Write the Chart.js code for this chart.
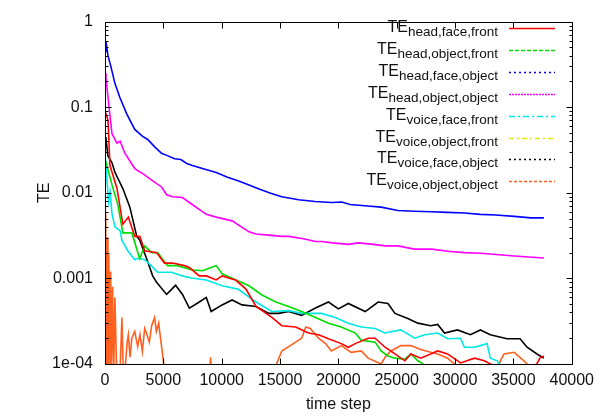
<!DOCTYPE html>
<html>
<head>
<meta charset="utf-8">
<script src="https://cdn.jsdelivr.net/npm/chart.js@4.4.1/dist/chart.umd.min.js"></script>
<style>
  html, body { margin: 0; padding: 0; background: #fff; }
  #wrap { width: 601px; height: 416px; }
</style>
</head>
<body>
<div id="wrap"><canvas id="teChart" width="601" height="416"></canvas></div>
<script>
// tick labels
const xTickValues = [0, 5000, 10000, 15000, 20000, 25000, 30000, 35000, 40000];
const yTickValues = [0.0001, 0.001, 0.01, 0.1, 1];
const yTickLabels = ['1e-04', '0.001', '0.01', '0.1', '1'];

// legend subscripts (TE_x,y,z)
const seriesSubs = [
    'head,face,front', 'head,object,front', 'head,face,object', 'head,object,object',
    'voice,face,front', 'voice,object,front', 'voice,face,object', 'voice,object,object'
];

// series values (time step -> TE)
const headFaceFrontSteps = [0, 255, 425, 1020, 1530, 2000, 2550, 2980, 3400, 4420, 5100, 5790, 6800, 7230, 8080, 8680, 9530, 10040, 11230, 12080, 12940, 14300, 15150, 16340, 17440, 18300, 19150, 20250, 20850, 21450, 22550, 23150, 24000, 24850, 25700, 26210, 27060, 27910, 28510, 29360, 30470, 31660, 32510, 33020, 34000, 36500, 37020, 37270, 37610];
const headFaceFrontTE = [0.09, 0.071, 0.0208, 0.0114, 0.0043, 0.0052, 0.0031, 0.0031, 0.0021, 0.0020, 0.00151, 0.00151, 0.00141, 0.00134, 0.00107, 0.00107, 0.00096, 0.00107, 0.00095, 0.00075, 0.00047, 0.00035, 0.00028, 0.00027, 0.00023, 0.00022, 0.000197, 0.000173, 0.000157, 0.000173, 0.00020, 0.00020, 0.000157, 0.000131, 0.000109, 0.000131, 0.000117, 0.000131, 0.000142, 0.000131, 0.000103, 0.000117, 0.000109, 0.0001, 0.00009, 0.00009, 0.000101, 0.000117, 0.000124];

const headObjectFrontSteps = [0, 600, 1100, 1530, 2300, 2980, 3400, 4000, 4510, 5360, 6210, 7400, 8340, 9530, 10040, 11230, 12340, 13450, 14640, 15740, 16850, 18040, 19150, 20250, 21450, 21960, 23150, 23660, 24250, 24850, 25700, 26210, 26810, 27230, 27660];
const headObjectFrontTE = [0.025, 0.0124, 0.0073, 0.0034, 0.0034, 0.0017, 0.0024, 0.0020, 0.0020, 0.00141, 0.00141, 0.00126, 0.00123, 0.00141, 0.00113, 0.00096, 0.00082, 0.00064, 0.00053, 0.00047, 0.00041, 0.00035, 0.00030, 0.00027, 0.00023, 0.00019, 0.00018, 0.000142, 0.000124, 0.000117, 0.000114, 0.000131, 0.000109, 0.000101, 0.00009];

const headFaceObjectSteps = [0, 85, 255, 500, 850, 1275, 1870, 2550, 3200, 3660, 4300, 4850, 5400, 5960, 6500, 7000, 7490, 8500, 9530, 10500, 11400, 12340, 13200, 14200, 15150, 16600, 18000, 19400, 20300, 21000, 22500, 23660, 25100, 26500, 28000, 29360, 30800, 32170, 33500, 35060, 36500, 37610];
const headFaceObjectTE = [0.45, 0.58, 0.40, 0.30, 0.19, 0.13, 0.083, 0.055, 0.046, 0.042, 0.034, 0.029, 0.027, 0.025, 0.0245, 0.022, 0.0208, 0.019, 0.0173, 0.0152, 0.0138, 0.0123, 0.0111, 0.0099, 0.0090, 0.0083, 0.0079, 0.0077, 0.0078, 0.0073, 0.0070, 0.0068, 0.0062, 0.0061, 0.0060, 0.0059, 0.0058, 0.0056, 0.0055, 0.0053, 0.0051, 0.0051];

const headObjectObjectSteps = [0, 85, 255, 600, 1020, 1300, 1700, 2550, 3300, 4000, 4850, 5280, 5790, 6640, 7230, 8680, 9530, 10890, 12340, 12940, 14000, 15150, 15740, 17000, 18040, 18550, 19500, 20850, 21700, 23000, 24000, 25100, 26500, 28000, 29360, 30800, 32170, 33500, 35060, 36300, 37610];
const headObjectObjectTE = [0.25, 0.219, 0.13, 0.049, 0.038, 0.040, 0.029, 0.0192, 0.0165, 0.0141, 0.0117, 0.0095, 0.0090, 0.0088, 0.0077, 0.0056, 0.0052, 0.0047, 0.0035, 0.0033, 0.0032, 0.0031, 0.0031, 0.0029, 0.0027, 0.0027, 0.0026, 0.0025, 0.0026, 0.0025, 0.0024, 0.0024, 0.0022, 0.0022, 0.00208, 0.0020, 0.00197, 0.0019, 0.00183, 0.00178, 0.00173];

const voiceFaceFrontSteps = [0, 300, 425, 600, 850, 1300, 1450, 1950, 2550, 2800, 3400, 4000, 4510, 5700, 6640, 7400, 8680, 10040, 11400, 12940, 14300, 15740, 16850, 18040, 18550, 19750, 20850, 21960, 23150, 24000, 25350, 26550, 27400, 28510, 29360, 30470, 30800, 31660, 32750, 33020, 33620, 34000];
const voiceFaceFrontTE = [0.03, 0.0080, 0.0103, 0.0057, 0.0040, 0.0036, 0.0028, 0.0021, 0.00165, 0.00172, 0.00165, 0.00139, 0.00118, 0.00118, 0.00107, 0.00101, 0.00096, 0.00082, 0.00075, 0.00053, 0.00041, 0.00042, 0.00039, 0.00039, 0.00039, 0.00035, 0.00030, 0.00027, 0.00026, 0.00023, 0.00025, 0.00020, 0.00022, 0.00023, 0.000197, 0.00020, 0.000157, 0.000157, 0.000173, 0.000117, 0.000109, 0.00008];

const voiceObjectFrontSteps = [0, 5000, 20000, 37500];
const voiceObjectFrontTE = [0.00008, 0.00006, 0.00005, 0.00004];

const voiceFaceObjectSteps = [0, 85, 255, 600, 850, 1100, 1530, 2130, 2720, 2980, 3570, 4085, 4420, 5280, 6050, 6640, 7230, 8080, 8680, 9100, 10040, 10890, 11740, 12940, 14040, 14890, 15740, 16850, 18040, 19150, 20000, 20850, 22300, 23410, 24250, 24850, 25950, 26810, 27910, 28510, 29100, 30200, 31320, 32170, 33020, 34460, 35570, 36170, 37020, 37610];
const voiceFaceObjectTE = [0.045, 0.042, 0.027, 0.0224, 0.0174, 0.0148, 0.0112, 0.0068, 0.0031, 0.0028, 0.0017, 0.00107, 0.00090, 0.00065, 0.00083, 0.00065, 0.00045, 0.00053, 0.00060, 0.00041, 0.00049, 0.00056, 0.00049, 0.00047, 0.00039, 0.00039, 0.00041, 0.00037, 0.00045, 0.00053, 0.00044, 0.00051, 0.00041, 0.00053, 0.00051, 0.00039, 0.00034, 0.00030, 0.00028, 0.00029, 0.00023, 0.00025, 0.00022, 0.00025, 0.00022, 0.000197, 0.000197, 0.000157, 0.000131, 0.000117];

const voiceObjectObjectSteps = [0, 60, 120, 180, 250, 320, 400, 480, 560, 650, 750, 850, 1000, 1300, 1450, 1550, 1700, 1900, 2000, 2150, 2300, 2550, 2800, 3000, 3200, 3400, 3600, 3800, 4000, 4250, 4400, 4600, 4800, 5000, 5100, 8900, 9050, 9200, 14300, 14700, 15150, 16340, 16850, 17200, 17600, 18300, 18900, 19400, 20250, 21100, 21960, 22550, 23660, 24000, 24500, 25350, 26210, 27060, 27910, 28510, 29360, 29950, 30300, 33500, 33900, 34200, 35060, 35900, 36170, 36500];
const voiceObjectObjectTE = [0.0005, 0.0057, 0.00008, 0.003, 0.00009, 0.002, 0.00008, 0.0012, 0.00009, 0.0008, 0.00008, 0.0006, 0.00008, 0.00009, 0.00035, 0.0001, 0.00008, 0.00018, 0.00022, 0.00012, 0.0002, 0.00024, 0.00016, 0.00022, 0.00014, 0.00026, 0.00022, 0.00018, 0.00028, 0.00035, 0.00024, 0.0003, 0.00018, 0.00011, 0.00008, 0.00005, 0.00012, 0.00005, 0.00006, 0.0001, 0.000142, 0.00018, 0.0002, 0.00027, 0.00026, 0.0002, 0.000173, 0.000142, 0.000164, 0.000137, 0.000142, 0.000117, 0.0001, 0.00012, 0.000142, 0.000164, 0.000164, 0.000148, 0.000137, 0.000131, 0.000117, 0.0001, 0.00008, 0.00008, 0.00011, 0.000131, 0.000137, 0.000109, 0.0001, 0.00008];

const seriesColors = ['#ff0000', '#00dd00', '#0000ff', '#ff00ff', '#00e8e8', '#e6e600', '#000000', '#ff6020'];
const legendDashes = [[], [4, 2], [2, 3], [2, 1], [6, 3, 2, 3], [5, 3, 2, 3], [2, 3], [3, 2]];

const seriesSteps = [headFaceFrontSteps, headObjectFrontSteps, headFaceObjectSteps, headObjectObjectSteps,
    voiceFaceFrontSteps, voiceObjectFrontSteps, voiceFaceObjectSteps, voiceObjectObjectSteps];
const seriesTE = [headFaceFrontTE, headObjectFrontTE, headFaceObjectTE, headObjectObjectTE,
    voiceFaceFrontTE, voiceObjectFrontTE, voiceFaceObjectTE, voiceObjectObjectTE];

const FONT = '"Liberation Sans", Arial, sans-serif';

// frame, inward ticks (gnuplot style) and the legend with subscripts
const gnuplotDecor = {
    id: 'gnuplotDecor',
    afterDatasetsDraw(chart) {
        const ctx = chart.ctx;
        const area = chart.chartArea;
        const xs = chart.scales.x;
        const ys = chart.scales.y;
        const L = Math.round(area.left) + 0.5, R = Math.round(area.right) + 0.5;
        const T = Math.round(area.top) + 0.5, B = Math.round(area.bottom) + 0.5;

        ctx.save();
        ctx.strokeStyle = '#000';
        ctx.lineWidth = 1;
        ctx.setLineDash([]);
        ctx.beginPath();
        xTickValues.forEach(v => {
            const px = Math.round(xs.getPixelForValue(v)) + 0.5;
            ctx.moveTo(px, B); ctx.lineTo(px, B - 6);
            ctx.moveTo(px, T); ctx.lineTo(px, T + 6);
        });
        yTickValues.forEach(v => {
            const py = Math.round(ys.getPixelForValue(v)) + 0.5;
            ctx.moveTo(L, py); ctx.lineTo(L + 6, py);
            ctx.moveTo(R, py); ctx.lineTo(R - 6, py);
        });
        for (let d = 0; d < yTickValues.length - 1; d++) {
            for (let m = 2; m <= 9; m++) {
                const py = Math.round(ys.getPixelForValue(yTickValues[d] * m)) + 0.5;
                ctx.moveTo(L, py); ctx.lineTo(L + 3, py);
                ctx.moveTo(R, py); ctx.lineTo(R - 3, py);
            }
        }
        ctx.stroke();
        ctx.strokeRect(L, T, R - L, B - T);

        // legend
        const textRight = 498;
        seriesSubs.forEach((sub, i) => {
            const base = 32 + i * 21.9;
            ctx.fillStyle = '#111';
            ctx.textBaseline = 'alphabetic';
            ctx.textAlign = 'right';
            ctx.font = '13.5px ' + FONT;
            ctx.fillText(sub, textRight, base + 4);
            const w = ctx.measureText(sub).width;
            ctx.font = '16px ' + FONT;
            ctx.fillText('TE', textRight - w, base);

            const ly = Math.round(base - 4) + 0.5;
            ctx.strokeStyle = seriesColors[i];
            ctx.lineWidth = 1.3;
            ctx.setLineDash(legendDashes[i]);
            ctx.beginPath();
            ctx.moveTo(509, ly);
            ctx.lineTo(555, ly);
            ctx.stroke();
        });
        ctx.restore();
    }
};

const datasets = seriesSubs.map((sub, i) => ({
    label: 'TE ' + sub,
    data: seriesSteps[i].map((s, k) => ({ x: s, y: seriesTE[i][k] })),
    borderColor: seriesColors[i],
    borderWidth: 1.6,
    pointRadius: 0,
    tension: 0,
    fill: false
}));

new Chart(document.getElementById('teChart'), {
    type: 'line',
    data: { datasets: datasets },
    options: {
        responsive: false,
        animation: false,
        layout: { padding: { left: 0, right: 26, top: 12, bottom: 0 } },
        plugins: { legend: { display: false }, tooltip: { enabled: false } },
        scales: {
            x: {
                type: 'linear',
                min: 0,
                max: 40000,
                afterBuildTicks: s => { s.ticks = xTickValues.map(v => ({ value: v })); },
                afterFit: s => { s.height = 52; },
                grid: { display: false, drawTicks: false },
                border: { display: false },
                ticks: {
                    autoSkip: false,
                    maxRotation: 0,
                    padding: 7,
                    color: '#111',
                    font: { family: FONT, size: 16 },
                    callback: v => String(v)
                },
                title: {
                    display: true,
                    text: 'time step',
                    color: '#111',
                    font: { family: FONT, size: 16 },
                    padding: { top: 0, bottom: 2 }
                }
            },
            y: {
                type: 'logarithmic',
                min: 0.0001,
                max: 1,
                afterBuildTicks: s => { s.ticks = yTickValues.map(v => ({ value: v })); },
                afterFit: s => { s.width = 105; },
                grid: { display: false, drawTicks: false },
                border: { display: false },
                ticks: {
                    autoSkip: false,
                    padding: 12,
                    color: '#111',
                    font: { family: FONT, size: 16 },
                    callback: v => {
                        const i = yTickValues.findIndex(t => Math.abs(Math.log10(t) - Math.log10(v)) < 1e-6);
                        return i >= 0 ? yTickLabels[i] : '';
                    }
                },
                title: {
                    display: true,
                    text: 'TE',
                    color: '#111',
                    font: { family: FONT, size: 16 },
                    padding: { top: 35, bottom: 0 }
                }
            }
        }
    },
    plugins: [gnuplotDecor]
});
</script>
</body>
</html>
